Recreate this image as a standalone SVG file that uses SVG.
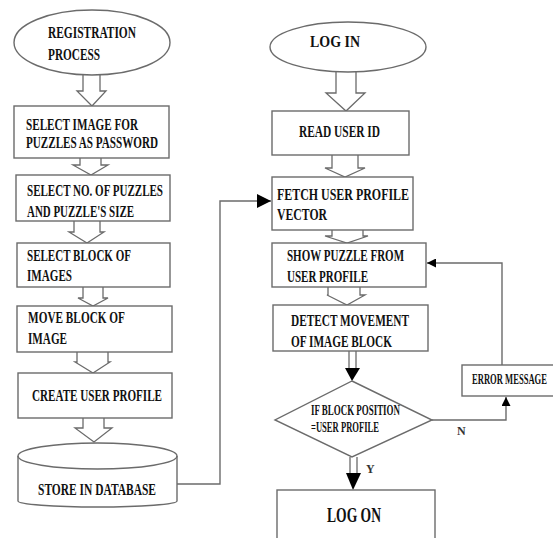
<svg xmlns="http://www.w3.org/2000/svg" width="553" height="538" viewBox="0 0 553 538">
<defs>
<style>
.s{fill:#fff;stroke:#6b6b6b;stroke-width:1.4}
.c{fill:none;stroke:#6b6b6b;stroke-width:1.4}
.ha{fill:#fff;stroke:#6b6b6b;stroke-width:1.3;stroke-linejoin:miter}
.t{font-family:"Liberation Serif","Times New Roman",serif;font-weight:bold;font-size:17px;fill:#111}
.sm{font-size:14px}
.big{font-size:21px}
.lb{font-family:"Liberation Serif","Times New Roman",serif;font-weight:bold;font-size:12px;fill:#333}
</style>
<marker id="ah" viewBox="0 0 10 10" refX="10" refY="5" markerWidth="9" markerHeight="9" markerUnits="userSpaceOnUse" orient="auto">
<path d="M0,0 L10,5 L0,10 Z" fill="#000"/>
</marker>
<marker id="ahb" viewBox="0 0 10 10" refX="10" refY="5" markerWidth="14" markerHeight="14" markerUnits="userSpaceOnUse" orient="auto">
<path d="M0,0 L10,5 L0,10 Z" fill="#000"/>
</marker>
</defs>
<rect width="553" height="538" fill="#fff"/>

<g id="connectors">
<path class="ha" d="M83,75 V91 H77 L92,106 L106,91 H100 V75"/>
<path class="ha" d="M80,158 V165 H73 L91,175 L108,165 H101 V158"/>
<path class="ha" d="M74,221 V232 H69 L87,243 L104,232 H100 V221"/>
<path class="ha" d="M83,287 V298 H78 L93,306 L108,298 H103 V287"/>
<path class="ha" d="M77,352 V362 H75 L93,373 L110,362 H108 V352"/>
<path class="ha" d="M83,418 V428 H75 L94,442 L112,428 H104 V418"/>
<path class="ha" d="M336,72 V93 H326 L346,111 L365,93 H356 V72"/>
<path class="ha" d="M332,155 V168 H325 L345,177 L365,168 H358 V155"/>
<path class="ha" d="M332,230 V236 H325 L347,243 L368,236 H363 V230"/>
<path class="ha" d="M328,287 V295 H327 L347,305 L365,295 H360 V287"/>
<path class="ha" d="M349,351 V369 H356 V351"/>
<path d="M345,368 L360,368 L352,381 Z" fill="#000"/>
<path class="ha" d="M350,457 V474 H357 V457"/>
<path d="M346,473 L361,473 L353,490 Z" fill="#000"/>
<polyline class="c" points="177,484 220,484 220,201 271,201" marker-end="url(#ahb)"/>
<polyline class="c" points="432,420 506,420 506,397" marker-end="url(#ah)"/>
<polyline class="c" points="502,365 502,263 427,263" marker-end="url(#ah)"/>
<text class="lb" x="457" y="435">N</text>
<text class="lb" x="366" y="473">Y</text>
</g>

<g id="registration">
<ellipse class="s" cx="92" cy="42.5" rx="78" ry="32.5"/>
<text class="t" x="48" y="38" textLength="88" lengthAdjust="spacingAndGlyphs">REGISTRATION</text>
<text class="t" x="48" y="60" textLength="52" lengthAdjust="spacingAndGlyphs">PROCESS</text>
</g>

<g id="select-image">
<rect class="s" x="14" y="106" width="155" height="52"/>
<text class="t" x="26" y="130" textLength="112" lengthAdjust="spacingAndGlyphs">SELECT IMAGE FOR</text>
<text class="t" x="26" y="148" textLength="132" lengthAdjust="spacingAndGlyphs">PUZZLES AS PASSWORD</text>
</g>

<g id="select-no">
<rect class="s" x="16" y="175" width="154" height="46"/>
<text class="t" x="27" y="196" textLength="136" lengthAdjust="spacingAndGlyphs">SELECT NO. OF PUZZLES</text>
<text class="t" x="27" y="217" textLength="107" lengthAdjust="spacingAndGlyphs">AND PUZZLE'S SIZE</text>
</g>

<g id="select-block">
<rect class="s" x="17" y="243" width="153" height="44"/>
<text class="t" x="27" y="261" textLength="104" lengthAdjust="spacingAndGlyphs">SELECT BLOCK OF</text>
<text class="t" x="27" y="281" textLength="45" lengthAdjust="spacingAndGlyphs">IMAGES</text>
</g>

<g id="move-block">
<rect class="s" x="17" y="306" width="155" height="46"/>
<text class="t" x="28" y="323" textLength="97" lengthAdjust="spacingAndGlyphs">MOVE BLOCK OF</text>
<text class="t" x="28" y="344" textLength="39" lengthAdjust="spacingAndGlyphs">IMAGE</text>
</g>

<g id="create-profile">
<rect class="s" x="18" y="373" width="154" height="45"/>
<text class="t" x="32" y="401" textLength="130" lengthAdjust="spacingAndGlyphs">CREATE USER PROFILE</text>
</g>

<g id="database">
<path class="s" d="M18,456 A79.5,13 0 0 1 177,456 V501 A79.5,6 0 0 1 18,501 Z"/>
<path class="c" d="M18,456 A79.5,13 0 0 0 177,456"/>
<text class="t" x="38" y="495" textLength="118" lengthAdjust="spacingAndGlyphs">STORE IN DATABASE</text>
</g>

<g id="login">
<ellipse class="s" cx="348" cy="47" rx="78" ry="25"/>
<text class="t" x="310" y="47" textLength="50" lengthAdjust="spacingAndGlyphs">LOG IN</text>
</g>

<g id="read-user">
<rect class="s" x="272" y="111" width="137" height="44"/>
<text class="t" x="299" y="137" textLength="81" lengthAdjust="spacingAndGlyphs">READ USER ID</text>
</g>

<g id="fetch-profile">
<rect class="s" x="272" y="177" width="141" height="53"/>
<text class="t" x="277" y="200" textLength="132" lengthAdjust="spacingAndGlyphs">FETCH USER PROFILE</text>
<text class="t" x="277" y="220" textLength="50" lengthAdjust="spacingAndGlyphs">VECTOR</text>
</g>

<g id="show-puzzle">
<rect class="s" x="272" y="243" width="154" height="44"/>
<text class="t" x="287" y="261" textLength="117" lengthAdjust="spacingAndGlyphs">SHOW PUZZLE FROM</text>
<text class="t" x="287" y="282" textLength="81" lengthAdjust="spacingAndGlyphs">USER PROFILE</text>
</g>

<g id="detect-movement">
<rect class="s" x="273" y="305" width="155" height="46"/>
<text class="t" x="291" y="326" textLength="118" lengthAdjust="spacingAndGlyphs">DETECT MOVEMENT</text>
<text class="t" x="291" y="347" textLength="101" lengthAdjust="spacingAndGlyphs">OF IMAGE BLOCK</text>
</g>

<g id="decision">
<polygon class="s" points="352,381 432,420 352,457 275,420"/>
<text class="t sm" x="311" y="415" textLength="89" lengthAdjust="spacingAndGlyphs">IF BLOCK POSITION</text>
<text class="t sm" x="311" y="432" textLength="68" lengthAdjust="spacingAndGlyphs">=USER PROFILE</text>
</g>

<g id="error-message">
<rect class="s" x="462" y="365" width="100" height="31"/>
<text class="t sm" x="472" y="384" textLength="75" lengthAdjust="spacingAndGlyphs">ERROR MESSAGE</text>
</g>

<g id="log-on">
<rect class="s" x="277" y="490" width="158" height="60"/>
<text class="t big" x="327" y="522" textLength="54" lengthAdjust="spacingAndGlyphs">LOG ON</text>
</g>
</svg>
